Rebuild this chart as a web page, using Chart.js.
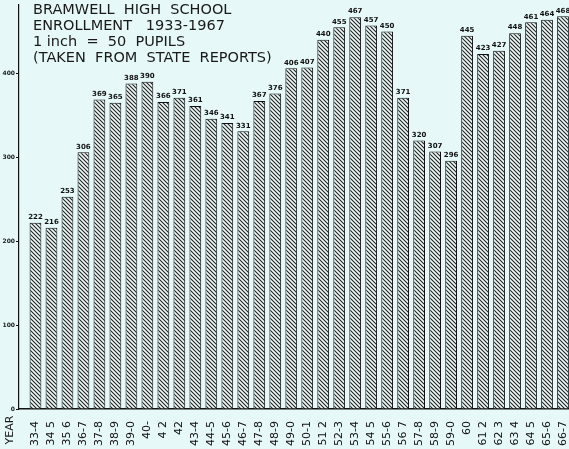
<!DOCTYPE html>
<html>
<head>
<meta charset="utf-8">
<script src="https://cdn.jsdelivr.net/npm/chart.js@4"></script>
<style>
  html, body { margin: 0; padding: 0; background: #e6f8f8; }
  canvas { display: block; }
</style>
</head>
<body>
<canvas id="chart" width="569" height="449"></canvas>
<script>
// school years as written under the bars
const years = ["33-4", "34 5", "35 6", "36-7", "37-8", "38-9", "39-0", "40-", "4 2", "42",
  "43-4", "44-5", "45-6", "46-7", "47-8", "48-9", "49-0", "50-1", "51 2", "52-3",
  "53-4", "54 5", "55-6", "56 7", "57-8", "58-9", "59-0", "60", "61 2", "62 3",
  "63 4", "64 5", "65-6", "66-7"];
// pupils enrolled
const pupils = [222, 216, 253, 306, 369, 365, 388, 390, 366, 371,
  361, 346, 341, 331, 367, 376, 406, 407, 440, 455,
  467, 457, 450, 371, 320, 307, 296, 445, 423, 427,
  448, 461, 464, 468];
const yTicks = [0, 100, 200, 300, 400];
const titleLines = ["BRAMWELL  HIGH  SCHOOL", "ENROLLMENT   1933-1967", "1 inch  =  50  PUPILS", "(TAKEN  FROM  STATE  REPORTS)"];

// diagonal hatching for the bars
function hatch() {
  let c = document.createElement("canvas");
  c.width = 4; c.height = 4;
  let g = c.getContext("2d");
  g.fillStyle = "#eef9f9";
  g.fillRect(0, 0, 4, 4);
  g.strokeStyle = "#222";
  g.lineWidth = 1.1;
  g.beginPath();
  g.moveTo(-1, -1); g.lineTo(5, 5);
  g.moveTo(-1, 3); g.lineTo(1, 5);
  g.moveTo(3, -1); g.lineTo(5, 1);
  g.stroke();
  return g.createPattern(c, "repeat");
}

const labelsPlugin = {
  id: "handLabels",
  afterDatasetsDraw(chart) {
    let ctx = chart.ctx;
    let meta = chart.getDatasetMeta(0);
    ctx.save();
    ctx.fillStyle = "#111";
    ctx.font = "bold 7px 'DejaVu Sans'";
    ctx.textAlign = "center";
    ctx.textBaseline = "bottom";
    meta.data.forEach(function (bar, i) {
      ctx.fillText(pupils[i], bar.x, bar.y - 2);
    });
    // title block
    ctx.font = "14.5px 'DejaVu Sans'";
    ctx.textAlign = "left";
    ctx.textBaseline = "middle";
    ctx.fillStyle = "#1a1a1a";
    titleLines.forEach(function (t, i) {
      ctx.fillText(t, 33, 10 + i * 16);
    });
    // YEAR under the axis
    ctx.translate(10, 430);
    ctx.rotate(-Math.PI / 2);
    ctx.font = "11px 'DejaVu Sans'";
    ctx.textAlign = "center";
    ctx.fillText("YEAR", 0, 0);
    ctx.restore();
  }
};

new Chart(document.getElementById("chart"), {
  type: "bar",
  data: {
    datasets: [{
      data: pupils.map(function (v, i) { return { x: i, y: v }; }),
      backgroundColor: hatch(),
      borderColor: "#111",
      borderWidth: 1,
      barPercentage: 0.92,
      categoryPercentage: 0.8,
      clip: false
    }]
  },
  options: {
    responsive: false,
    animation: false,
    layout: { padding: 0 },
    plugins: { legend: { display: false }, tooltip: { enabled: false } },
    scales: {
      x: {
        type: "linear",
        offset: false,
        bounds: "data",
        min: -1.03,
        max: 33.375,
        grid: { display: false, offset: false },
        border: { color: "#111", width: 1.5 },
        afterBuildTicks: function (scale) {
          scale.ticks = years.map(function (_, i) { return { value: i }; });
        },
        afterFit: function (scale) {
          scale.height = 40;
          scale.paddingLeft = 0;
          scale.paddingRight = 0;
        },
        ticks: {
          autoSkip: false,
          minRotation: 90,
          maxRotation: 90,
          padding: 4,
          color: "#111",
          font: { family: "DejaVu Sans", size: 11 },
          callback: function (v) { return years[v]; }
        }
      },
      y: {
        min: 0,
        max: 482,
        grid: { display: true, drawOnChartArea: false, tickLength: 3, color: "#111" },
        border: { color: "#111", width: 1.2 },
        afterBuildTicks: function (scale) {
          scale.ticks = yTicks.map(function (v) { return { value: v }; });
        },
        afterFit: function (scale) { scale.width = 19; },
        ticks: {
          padding: 1,
          color: "#1a1a1a",
          font: { family: "DejaVu Sans", size: 6, weight: "bold" }
        }
      }
    }
  },
  plugins: [labelsPlugin]
});
</script>
</body>
</html>
